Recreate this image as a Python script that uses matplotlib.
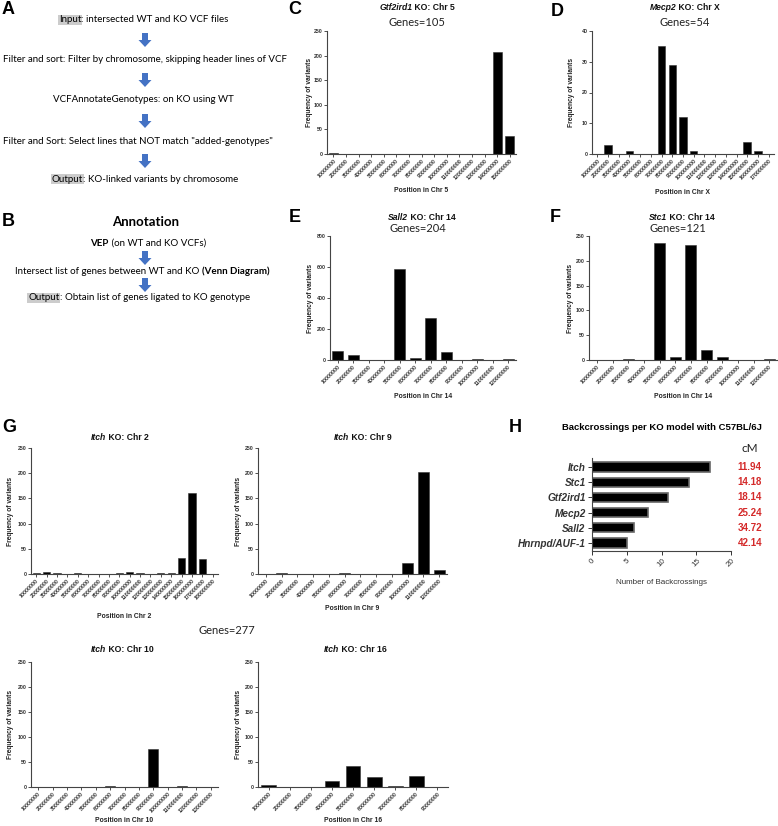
import numpy as np
import matplotlib
matplotlib.use('Agg')
import matplotlib.pyplot as plt
from matplotlib.patches import FancyArrow

W, H = 778, 826
ARIAL = 'Liberation Sans'
CAL = 'Lato'

# --- data ---
def pos_labels(n):
    return [str(10000000 * (i + 1)) for i in range(n)]

c_vals = [2, 1, 0, 0, 0, 0, 0, 0, 0, 0, 1, 0, 0, 208, 36]
d_vals = [0, 3, 0, 1, 0, 0, 35, 29, 12, 1, 0, 0, 0, 0, 4, 1, 0]
e_vals = [60, 30, 0, 0, 585, 15, 270, 50, 0, 5, 0, 4]
f_vals = [0, 0, 2, 0, 235, 6, 232, 21, 6, 0, 0, 2]
g2_vals = [1, 3, 2, 0, 1, 0, 0, 0, 2, 3, 2, 0, 2, 1, 31, 161, 30, 0]
g9_vals = [0, 1, 0, 0, 0, 2, 0, 0, 0, 22, 203, 8]
g10_vals = [0, 0, 0, 0, 0, 2, 0, 1, 77, 0, 2, 1, 0]
g16_vals = [5, 1, 1, 13, 42, 21, 3, 23, 0]

ko_models = ['Itch', 'Stc1', 'Gtf2ird1', 'Mecp2', 'Sall2', 'Hnrnpd/AUF-1']
backcrossings = [17, 14, 11, 8, 6, 5]
cm_values = ['11.94', '14.18', '18.14', '25.24', '34.72', '42.14']

fig = plt.figure(figsize=(W / 100, H / 100), dpi=100)

# overlay in pixel coordinates for text and arrows
ov = fig.add_axes([0, 0, 1, 1])
ov.set_xlim(0, W)
ov.set_ylim(H, 0)
ov.axis('off')
renderer = fig.canvas.get_renderer()


def rich(x, y, parts, size, family=CAL, **common):
    texts = []
    for s, kw in parts:
        t = ov.text(0, y, s, fontsize=size, family=family, va='center', ha='left', **common, **kw)
        texts.append(t)
    widths = [t.get_window_extent(renderer).width for t in texts]
    x0 = x - sum(widths) / 2
    for t, w in zip(texts, widths):
        t.set_x(x0)
        x0 += w


def arrow(x, yc):
    ov.add_patch(FancyArrow(x, yc - 7, 0, 14, width=6, head_width=13, head_length=7,
                            length_includes_head=True, color='#4472C4', lw=0))


def px_axes(left, top, right, bottom):
    return fig.add_axes([left / W, 1 - bottom / H, (right - left) / W, (bottom - top) / H])


def style(ax):
    for s in ['top', 'right']:
        ax.spines[s].set_visible(False)
    for s in ['left', 'bottom']:
        ax.spines[s].set_color('#444444')
        ax.spines[s].set_linewidth(0.8)
    ax.tick_params(length=2.2, width=0.6, pad=1, colors='#333333')


def bar_panel(box, vals, ymax, ystep, gene, chrom, xlab_y, ylab_x, title_xy):
    ax = px_axes(*box)
    x = np.arange(len(vals))
    ax.bar(x, vals, width=0.7, color='black', edgecolor='#333333', linewidth=0.4)
    ax.set_xlim(-0.5, len(vals) - 0.5)
    ax.set_ylim(0, ymax)
    ax.set_yticks(np.arange(0, ymax + 1, ystep))
    ax.set_xticks(x)
    ax.set_xticklabels(pos_labels(len(vals)), rotation=45, ha='right', rotation_mode='anchor',
                       fontsize=3.8, fontweight='bold', family=ARIAL)
    for t in ax.get_yticklabels():
        t.set_fontsize(3.8)
        t.set_fontweight('bold')
        t.set_family(ARIAL)
    style(ax)
    left, top, right, bottom = box
    cx = (left + right) / 2
    ov.text(cx, xlab_y, f'Position in Chr {chrom}', ha='center', va='center',
            fontsize=4.9, fontweight='bold', family=ARIAL, color='#222222')
    ov.text(ylab_x, (top + bottom) / 2, 'Frequency of variants', ha='center', va='center',
            rotation=90, fontsize=4.8, fontweight='bold', family=ARIAL, color='#222222')
    rich(title_xy[0], title_xy[1], [(gene, dict(style='italic')), (f' KO: Chr {chrom}', {})],
         6.2, family=ARIAL, fontweight='bold', color='#111111')
    return ax


# --- panel letters ---
for letter, (lx, ly) in {'A': (8, 10), 'B': (8, 222), 'C': (295, 10), 'D': (557, 11),
                         'E': (295, 218), 'F': (555, 217), 'G': (9, 427), 'H': (515, 428)}.items():
    ov.text(lx, ly, letter, ha='center', va='center', fontsize=13, fontweight='bold', family=ARIAL)

# --- panel A ---
hl = dict(bbox=dict(facecolor='#cccccc', edgecolor='none', pad=0.6))
rich(144, 20, [('Input', hl), (': intersected WT and KO VCF files', {})], 7)
arrow(145, 40)
rich(145, 60, [('Filter and sort: Filter by chromosome, skipping header lines of VCF', {})], 7)
arrow(145, 80)
rich(143, 100, [('VCFAnnotateGenotypes: on KO using WT', {})], 7)
arrow(145, 121)
rich(138, 141, [('Filter and Sort: Select lines that NOT match "added-genotypes"', {})], 7)
arrow(145, 161)
rich(145, 179, [('Output', hl), (': KO-linked variants by chromosome', {})], 7)

# --- panel B ---
rich(146, 222, [('Annotation', dict(fontweight='bold'))], 9.5)
rich(148, 243, [('VEP', dict(fontweight='bold')), (' (on WT and KO VCFs)', {})], 7)
arrow(145, 258)
rich(142, 271, [('Intersect list of genes between WT and KO ', {}),
                ('(Venn Diagram)', dict(fontweight='bold'))], 7)
arrow(145, 285)
rich(139, 298, [('Output', hl), (': Obtain list of genes ligated to KO genotype', {})], 7)

# --- panels C-F ---
gkw = dict(ha='center', va='center', fontsize=8, family=CAL, color='#222222')
bar_panel((327, 31, 516, 154), c_vals, 250, 50, 'Gtf2ird1', '5', 191, 310, (417, 8))
ov.text(417, 23, 'Genes=105', **gkw)
bar_panel((592, 31, 774, 154), d_vals, 40, 10, 'Mecp2', 'X', 192, 572, (685, 8))
ov.text(685, 23, 'Genes=54', **gkw)
bar_panel((330, 236, 516, 360), e_vals, 800, 200, 'Sall2', '14', 396, 311, (422, 218))
ov.text(418, 229, 'Genes=204', **gkw)
bar_panel((589, 236, 777, 360), f_vals, 250, 50, 'Stc1', '14', 396, 571, (682, 218))
ov.text(678, 229, 'Genes=121', **gkw)

# --- panel G ---
bar_panel((31, 448, 218, 574), g2_vals, 250, 50, 'Itch', '2', 617, 11, (120, 438))
bar_panel((258, 448, 447, 574), g9_vals, 250, 50, 'Itch', '9', 609, 239, (363, 438))
bar_panel((31, 662, 218, 787), g10_vals, 250, 50, 'Itch', '10', 821, 11, (122, 650))
bar_panel((258, 662, 448, 787), g16_vals, 250, 50, 'Itch', '16', 820, 239, (355, 649))
ov.text(227, 631, 'Genes=277', **gkw)

# --- panel H ---
axh = px_axes(592, 458, 731, 551)
yy = np.arange(len(ko_models))
axh.barh(yy, backcrossings, height=0.62, color='black', edgecolor='#666666', linewidth=1.2)
axh.set_ylim(len(ko_models) - 0.47, -0.6)
axh.set_xlim(0, 20)
axh.set_xticks([0, 5, 10, 15, 20])
axh.set_yticks(yy)
axh.set_yticklabels(ko_models, fontsize=7.2, fontweight='bold', style='italic', family=ARIAL)
for t in axh.get_xticklabels():
    t.set_rotation(45)
    t.set_fontsize(5.8)
    t.set_family(ARIAL)
style(axh)
axh.tick_params(length=3, width=0.7, pad=1.5)
for i, v in enumerate(cm_values):
    axh.text(22.7, i, v, ha='center', va='center', color='#D42A2A', fontweight='bold',
             fontsize=7, family=ARIAL, clip_on=False)
ov.text(662, 428, 'Backcrossings per KO model with C57BL/6J', ha='center', va='center',
        fontsize=6.8, fontweight='bold', family=ARIAL)
ov.text(750, 448, 'cM', ha='center', va='center', fontsize=8.5, family=CAL, color='#222222')
ov.text(662, 583, 'Number of Backcrossings', ha='center', va='center', fontsize=5.8,
        family=ARIAL, color='#333333')

fig.savefig('out.png', dpi=100)
